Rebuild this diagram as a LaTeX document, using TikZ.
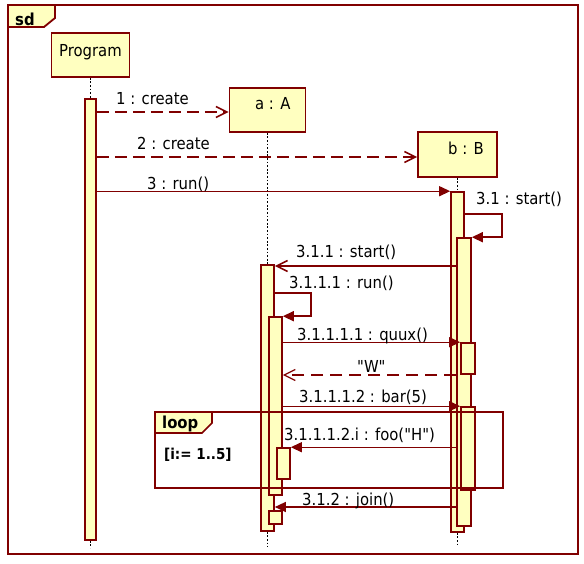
\documentclass[tikz,border=0pt]{standalone}
\usepackage{fontspec}
\setmainfont{DejaVu Sans Condensed}
\newfontfamily\plainfont{DejaVu Sans Condensed}
\usetikzlibrary{arrows.meta}
\definecolor{umlred}{RGB}{128,0,0}
\definecolor{umlfill}{RGB}{255,255,192}
\tikzset{
  objbox/.style={draw=umlred, fill=umlfill, line width=1.6pt, inner sep=0pt, rectangle},
  actbox/.style={draw=umlred, fill=umlfill, line width=1.6pt, inner sep=0pt, rectangle, minimum width=13pt},
  lifeline/.style={draw=black, line width=1.8pt, dash pattern=on 1.8pt off 1.8pt},
  msg/.style={draw=umlred, line width=1.3pt},
  dashmsg/.style={msg, line width=1.6pt, dash pattern=on 12pt off 6pt},
  syncmsg/.style={msg, -{Triangle[length=11pt,width=10pt]}},
  openmsg/.style={msg, -{Straight Barb[length=11pt,width=11pt]}},
  lbl/.style={anchor=base west, inner sep=0pt, text=black},
  frameline/.style={draw=umlred, line width=1.8pt},
}
\begin{document}
\begin{tikzpicture}[x=1pt,y=-1pt, font=\plainfont\fontsize{16.5}{19}\selectfont]
\useasboundingbox (0,0) rectangle (584,564);
\fill[white] (0,0) rectangle (584,564);

% objects
\node[objbox, minimum width=78pt, minimum height=44pt] (prog) at (90.5,55) {};
\node[lbl] (progT) at (59,57) {Program};
\node[objbox, minimum width=76pt, minimum height=44pt] (boxA) at (267.5,110) {};
\node[lbl] (aT) at (255,110) {a : A};
\node[objbox, minimum width=79pt, minimum height=45pt] (boxB) at (457.5,154.5) {};
\node[lbl] (bT) at (448,155) {b : B};

% activations
\node[actbox, minimum width=11pt, minimum height=441pt] (actP) at (90.5,319.5) {};
\node[actbox, minimum height=266pt] (actA1) at (267.5,398) {};
\node[actbox, minimum height=178pt] (actA2) at (275.5,406) {};
\node[actbox, minimum height=31pt] (actA3) at (283.5,463.5) {};
\node[actbox, minimum height=13pt] (actA4) at (275.5,517.5) {};
\node[actbox, minimum height=340pt] (actB1) at (457.5,362) {};
\node[actbox, minimum width=14pt, minimum height=288pt] (actB2) at (464,382) {};
\node[actbox, minimum width=14pt, minimum height=31pt] (actB3) at (468,358.5) {};
\node[actbox, minimum width=14pt, minimum height=83pt] (actB4) at (468,448.5) {};

% lifelines
\coordinate (endP) at (90.5,548);
\coordinate (endA) at (267.5,547);
\coordinate (endB) at (457.5,547);
\draw[lifeline] (prog.south) -- (actP.north);
\draw[lifeline] (actP.south) -- (endP);
\draw[lifeline] (boxA.south) -- (actA1.north);
\draw[lifeline] (actA1.south) -- (endA);
\draw[lifeline] (boxB.south) -- (actB1.north);
\draw[lifeline] (actB1.south) -- (endB);

% messages
\draw[dashmsg, -{Straight Barb[length=11pt,width=11pt]}] (actP.east |- 0,112) -- (boxA.west |- 0,112);
\node[lbl] (m1) at (116,105) {1 : create};
\draw[dashmsg, -{Straight Barb[length=11pt,width=11pt]}] (actP.east |- 0,157) -- (boxB.west |- 0,157);
\node[lbl] (m2) at (137,150) {2 : create};
\draw[syncmsg] (actP.east |- actB1.north) -- (actB1.north west);
\node[lbl] (m3) at (147,190) {3 : run()};
\draw[syncmsg, line width=1.6pt] (actB1.east |- 0,214) -| ([xshift=30pt]actB2.north east) -- (actB2.north east);
\node[lbl] (m31) at (476,205) {3.1 : start()};
\draw[openmsg, line width=1.6pt] (actB2.west |- 0,266) -- (actA1.east |- 0,266);
\node[lbl] (m311) at (296,258) {3.1.1 : start()};
\draw[syncmsg, line width=1.6pt] (actA1.east |- 0,293) -| ([xshift=28pt]actA2.north east) -- (actA2.north east);
\node[lbl] (m3111) at (289,288) {3.1.1.1 : run()};
\draw[syncmsg] (actA2.east |- actB3.north) -- (actB3.north west);
\node[lbl] (m31111) at (297,340) {3.1.1.1.1 : quux()};
\draw[msg, dash pattern=on 12pt off 7pt, -{Straight Barb[length=11pt,width=11pt]}] (actB2.west |- 0,375) -- (actA2.east |- 0,375);
\node[lbl] (mW) at (357,372) {"W"};
\draw[syncmsg] (actA2.east |- actB4.north) -- (actB4.north west);
\node[lbl] (m31112) at (299,402) {3.1.1.1.2 : bar(5)};
\draw[syncmsg] (actB2.west |- actA3.north) -- (actA3.north east);
\node[lbl] (m31112i) at (284,440) {3.1.1.1.2.i : foo("H")};
\draw[syncmsg] (actB2.west |- 0,507) -- (actA1.east |- 0,507);
\node[lbl] (m312) at (302,505) {3.1.2 : join()};

% loop fragment
\draw[frameline, line width=1.6pt] (155,412) rectangle (503,488);
\draw[frameline, line width=1.6pt, fill=umlfill] (155,412) -- (212,412) -- (212,423) -- (202,433) -- (155,433) -- cycle;
\node[lbl, font=\plainfont\fontsize{16.5}{19}\selectfont\bfseries] (loopT) at (162,428) {loop};
\node[lbl, font=\plainfont\fontsize{15}{17}\selectfont\bfseries] (guard) at (164,459) {[i:= 1..5]};

% sd frame
\draw[frameline] (8,5) rectangle (578,554);
\draw[frameline, fill=umlfill] (8,5) -- (55,5) -- (55,18) -- (44,27) -- (8,27) -- cycle;
\node[lbl, font=\plainfont\fontsize{16.5}{19}\selectfont\bfseries] (sdT) at (15,26) {sd};
\end{tikzpicture}
\end{document}
